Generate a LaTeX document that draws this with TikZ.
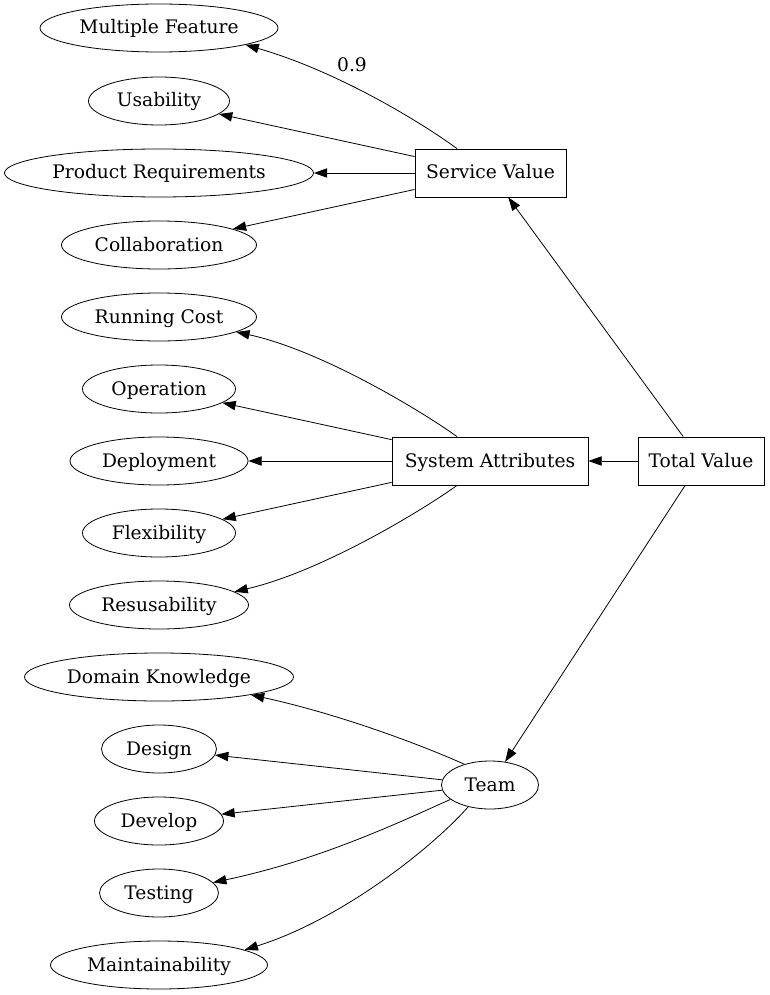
\documentclass[tikz,border=0pt]{standalone}
\usepackage{fontspec}
\setmainfont{DejaVu Serif}
\usetikzlibrary{arrows.meta,shapes.geometric,calc}
\begin{document}
\begin{tikzpicture}[x=0.75pt,y=-0.75pt,
  every node/.style={font=\fontsize{14}{16}\selectfont, line width=0.6pt, text height=12pt, text depth=3pt},
  leaf/.style={draw, ellipse, inner sep=0pt, minimum height=36pt, minimum width=#1},
  hub/.style={draw, rectangle, inner sep=0pt, minimum height=36pt, minimum width=#1},
  edge/.style={draw, line width=0.6pt, -{Triangle[length=10pt,width=7pt]}}]
\useasboundingbox (0,0) rectangle (770,995);

% leaves
\node[leaf=178.5pt]  (mf) at (159,28)  {Multiple Feature};
\node[leaf=105.75pt] (us) at (159,101) {Usability};
\node[leaf=231.75pt] (pr) at (159,173) {Product Requirements};
\node[leaf=146.25pt] (co) at (159,245) {Collaboration};
\node[leaf=146.25pt] (rc) at (159,317) {Running Cost};
\node[leaf=114.75pt] (op) at (159,389) {Operation};
\node[leaf=133.5pt]  (de) at (159,461) {Deployment};
\node[leaf=114.75pt] (fl) at (159,533) {Flexibility};
\node[leaf=134.25pt] (re) at (159,605) {Resusability};
\node[leaf=201.75pt] (dk) at (159,677) {Domain Knowledge};
\node[leaf=86.25pt]  (ds) at (159,749) {Design};
\node[leaf=96.75pt]  (dv) at (159,821) {Develop};
\node[leaf=89.25pt]  (te) at (159,893) {Testing};
\node[leaf=162.75pt] (ma) at (159,965) {Maintainability};

% hubs
\node[hub=113.25pt] (sv) at (490.5,173) {Service Value};
\node[hub=147pt]    (sa) at (490,461)   {System Attributes};
\node[hub=94.5pt]   (tv) at (701,461)   {Total Value};
\node[leaf=72.75pt] (tm) at (490,785)   {Team};

% total value
\draw[edge] (tv) -- (sv);
\draw[edge] (tv) -- (sa);
\draw[edge] (tv) -- (tm);

% service value
\draw[edge] ($(sv.north)+(-33.5,0)$) .. controls (425,125) and (340,72) .. (mf.-11);
\node (lbl) at (352,66) {0.9};
\draw[edge] (sv) -- (us);
\draw[edge] (sv) -- (pr);
\draw[edge] (sv) -- (co);

% system attributes
\draw[edge] ($(sa.north)+(-33,0)$) .. controls (420,410) and (320,350) .. (rc.-11);
\draw[edge] (sa) -- (op);
\draw[edge] (sa) -- (de);
\draw[edge] (sa) -- (fl);
\draw[edge] ($(sa.south)+(-33,0)$) .. controls (420,512) and (320,572) .. (re.10);

% team
\draw[edge] (tm.141) .. controls (410,740) and (330,712) .. (dk.-11);
\draw[edge] (tm) -- (ds);
\draw[edge] (tm) -- (dv);
\draw[edge] (tm.200) .. controls (400,822) and (320,860) .. (te.11);
\draw[edge] (tm.225) .. controls (430,850) and (340,920) .. (ma.10);
\end{tikzpicture}
\end{document}
